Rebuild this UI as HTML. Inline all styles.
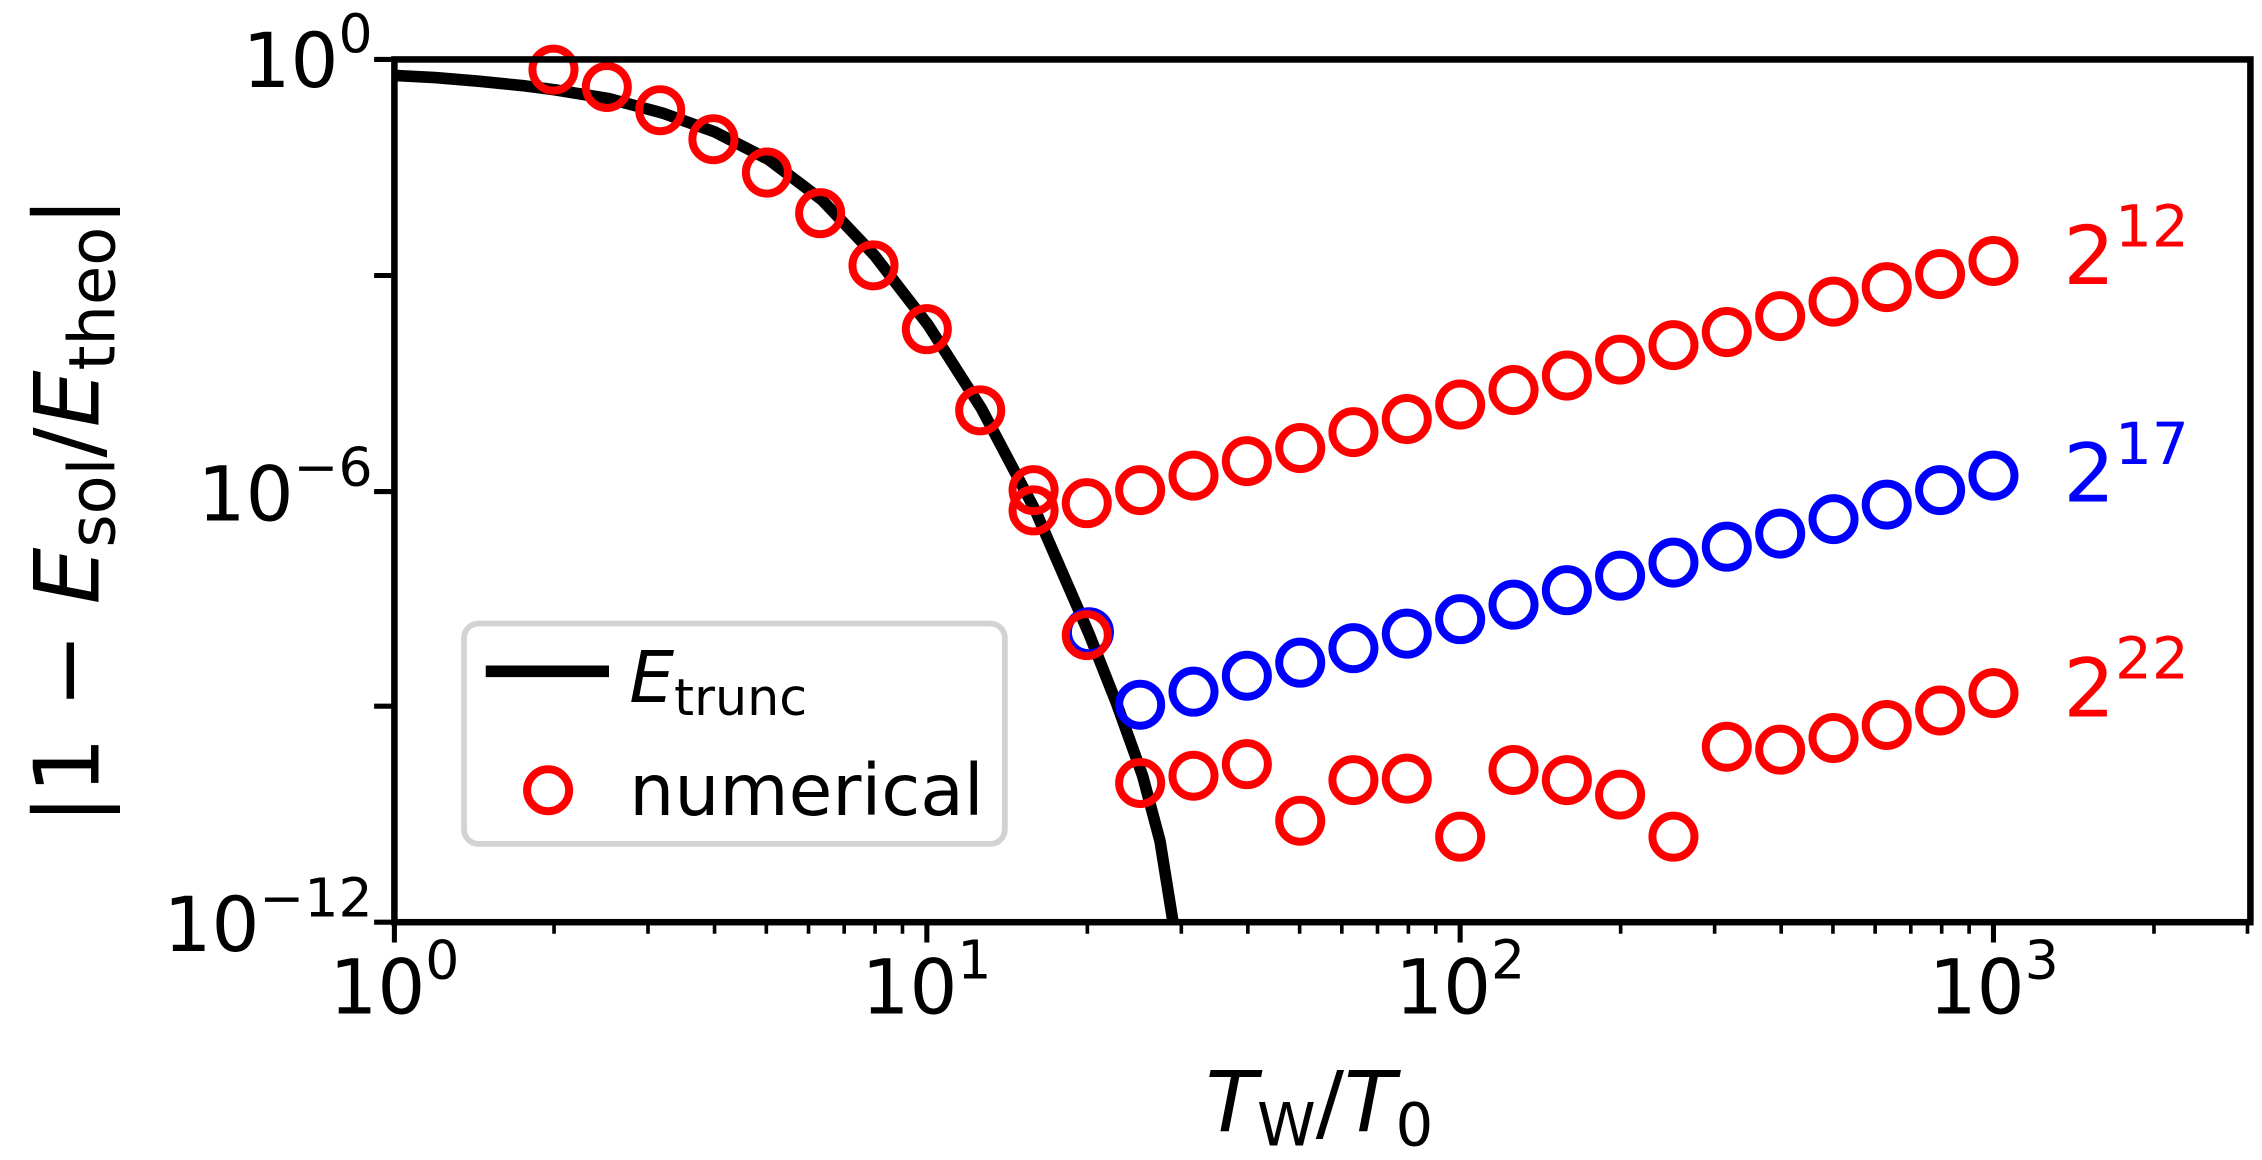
<!DOCTYPE html>
<html><head><style>html,body{margin:0;padding:0;background:#fff}svg{display:block}</style></head>
<body>
<svg width="2262" height="1160" viewBox="0 0 1560 800" xmlns="http://www.w3.org/2000/svg" font-family="'DejaVu Sans','Liberation Sans',sans-serif">
<rect width="1560" height="800" fill="#fff"/>
<polyline points="272,52 300,53.5 330,56 360,59 383,62 420,68 457,78 493,91 530,110 567,138 603,176 640,224 677,282 714,352 751,437 770,485 788,535 800,580 809,636" fill="none" stroke="#000" stroke-width="8" stroke-linejoin="round"/>
<g fill="none" stroke-width="5.5">
<g stroke="#00f">
<circle cx="751" cy="436" r="14.5"/>
<circle cx="786.3" cy="486" r="14.5"/><circle cx="823.1" cy="477" r="14.5"/><circle cx="859.9" cy="466" r="14.5"/><circle cx="896.7" cy="457" r="14.5"/><circle cx="933.4" cy="447" r="14.5"/><circle cx="970.2" cy="437" r="14.5"/><circle cx="1007" cy="427" r="14.5"/><circle cx="1043.8" cy="417" r="14.5"/><circle cx="1080.6" cy="407" r="14.5"/><circle cx="1117.3" cy="397" r="14.5"/><circle cx="1154.1" cy="388" r="14.5"/><circle cx="1190.9" cy="377" r="14.5"/><circle cx="1227.7" cy="368" r="14.5"/><circle cx="1264.5" cy="358" r="14.5"/><circle cx="1301.2" cy="348" r="14.5"/><circle cx="1338" cy="338" r="14.5"/><circle cx="1374.8" cy="328" r="14.5"/>
</g>
<g stroke="#f00">
<circle cx="381.7" cy="48" r="14.5"/><circle cx="418.5" cy="60" r="14.5"/><circle cx="455.3" cy="76" r="14.5"/><circle cx="492" cy="96" r="14.5"/><circle cx="528.9" cy="119" r="14.5"/><circle cx="565.6" cy="147" r="14.5"/><circle cx="602.4" cy="183" r="14.5"/><circle cx="639.2" cy="227" r="14.5"/><circle cx="676" cy="283" r="14.5"/><circle cx="712.8" cy="338" r="14.5"/><circle cx="712.8" cy="352" r="14.5"/>
<circle cx="749.5" cy="347" r="14.5"/><circle cx="749.5" cy="438" r="14.5"/>
<circle cx="786.3" cy="338" r="14.5"/><circle cx="823.1" cy="328" r="14.5"/><circle cx="859.9" cy="318" r="14.5"/><circle cx="896.7" cy="309" r="14.5"/><circle cx="933.4" cy="298" r="14.5"/><circle cx="970.2" cy="289" r="14.5"/><circle cx="1007" cy="279" r="14.5"/><circle cx="1043.8" cy="269" r="14.5"/><circle cx="1080.6" cy="259" r="14.5"/><circle cx="1117.3" cy="248" r="14.5"/><circle cx="1154.1" cy="238" r="14.5"/><circle cx="1190.9" cy="229" r="14.5"/><circle cx="1227.7" cy="218" r="14.5"/><circle cx="1264.5" cy="208" r="14.5"/><circle cx="1301.2" cy="198" r="14.5"/><circle cx="1338" cy="189" r="14.5"/><circle cx="1374.8" cy="180" r="14.5"/>
<circle cx="786.3" cy="540" r="14.5"/><circle cx="823.1" cy="535" r="14.5"/><circle cx="859.9" cy="527" r="14.5"/><circle cx="896.7" cy="566" r="14.5"/><circle cx="933.4" cy="538" r="14.5"/><circle cx="970.2" cy="537" r="14.5"/><circle cx="1007" cy="577" r="14.5"/><circle cx="1043.8" cy="531" r="14.5"/><circle cx="1080.6" cy="538" r="14.5"/><circle cx="1117.3" cy="548" r="14.5"/><circle cx="1154.1" cy="577" r="14.5"/><circle cx="1190.9" cy="515" r="14.5"/><circle cx="1227.7" cy="517" r="14.5"/><circle cx="1264.5" cy="509" r="14.5"/><circle cx="1301.2" cy="500" r="14.5"/><circle cx="1338" cy="490" r="14.5"/><circle cx="1374.8" cy="478" r="14.5"/>
</g>
</g>
<rect x="0" y="638" width="1560" height="162" fill="#fff"/>
<rect x="272" y="41" width="1280" height="595" fill="none" stroke="#000" stroke-width="4.5"/>
<g stroke="#000" stroke-width="3.5">
<line x1="258" y1="41" x2="272" y2="41"/><line x1="258" y1="190" x2="272" y2="190"/><line x1="258" y1="339" x2="272" y2="339"/><line x1="258" y1="487" x2="272" y2="487"/><line x1="258" y1="636" x2="272" y2="636"/>
<line x1="272" y1="636" x2="272" y2="650"/><line x1="639.2" y1="636" x2="639.2" y2="650"/><line x1="1007" y1="636" x2="1007" y2="650"/><line x1="1374.8" y1="636" x2="1374.8" y2="650"/>
</g>
<g stroke="#000" stroke-width="2.5">
<path d="M382.1,636v8M446.9,636v8M492.8,636v8M528.5,636v8M557.6,636v8M582.2,636v8M603.5,636v8M622.4,636v8
M749.9,636v8M814.7,636v8M860.6,636v8M896.3,636v8M925.4,636v8M950,636v8M971.3,636v8M990.2,636v8
M1117.7,636v8M1182.5,636v8M1228.4,636v8M1264.1,636v8M1293.2,636v8M1317.8,636v8M1339.1,636v8M1358,636v8
M1485.5,636v8M1550,636v8"/>
</g>
<g font-size="52" fill="#000">
<text x="257" y="60" text-anchor="end">10<tspan dy="-24" font-size="37">0</tspan></text>
<text x="257" y="359" text-anchor="end">10<tspan dy="-24" font-size="37">−6</tspan></text>
<text x="257" y="656" text-anchor="end">10<tspan dy="-24" font-size="37">−12</tspan></text>
<text x="272" y="699" text-anchor="middle">10<tspan dy="-24" font-size="37">0</tspan></text>
<text x="639" y="699" text-anchor="middle">10<tspan dy="-24" font-size="37">1</tspan></text>
<text x="1007" y="699" text-anchor="middle">10<tspan dy="-24" font-size="37">2</tspan></text>
<text x="1375" y="699" text-anchor="middle">10<tspan dy="-24" font-size="37">3</tspan></text>
</g>
<text x="910" y="780" font-size="58" text-anchor="middle"><tspan font-style="italic">T</tspan><tspan font-size="41" dy="10">W</tspan><tspan dy="-10">/</tspan><tspan font-style="italic">T</tspan><tspan font-size="41" dy="10">0</tspan></text>
<text transform="translate(68,352) rotate(-90)" font-size="62" text-anchor="middle">|1 − <tspan font-style="italic">E</tspan><tspan font-size="44" dy="11">sol</tspan><tspan dy="-11">/</tspan><tspan font-style="italic">E</tspan><tspan font-size="44" dy="11">theo</tspan><tspan dy="-11">|</tspan></text>
<g font-size="56">
<text x="1423" y="196" fill="#f00">2<tspan dy="-26" font-size="40">12</tspan></text>
<text x="1423" y="346" fill="#00f">2<tspan dy="-26" font-size="40">17</tspan></text>
<text x="1423" y="494" fill="#f00">2<tspan dy="-26" font-size="40">22</tspan></text>
</g>
<rect x="320" y="430" width="373" height="152" rx="10" fill="#fff" stroke="#d3d3d3" stroke-width="4"/>
<line x1="335" y1="463" x2="420" y2="463" stroke="#000" stroke-width="8"/>
<text x="434" y="484" font-size="49"><tspan font-style="italic">E</tspan><tspan font-size="35" dy="9">trunc</tspan></text>
<circle cx="378" cy="545" r="14.5" fill="none" stroke="#f00" stroke-width="5.5"/>
<text x="434" y="562" font-size="49">numerical</text>
</svg>
</body></html>
